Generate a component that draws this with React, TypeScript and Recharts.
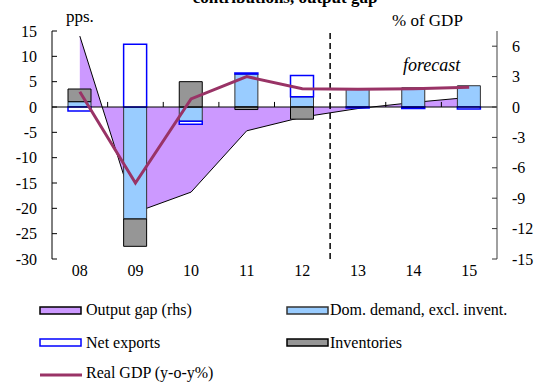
import React from 'react';
import {
  ComposedChart, Area, Bar, Line, XAxis, YAxis, ReferenceLine,
} from 'recharts';

const years = ['08', '09', '10', '11', '12', '13', '14', '15'];
const domDemand = [1.05, -22.1, -2.8, 6.5, 2.0, 3.5, 3.8, 4.2];
const netExports = [-0.8, 12.4, -0.6, 0.2, 4.2, -0.2, -0.3, -0.4];
const inventories = [2.5, -5.4, 5.0, -0.5, -2.4, 0, 0, 0];
const outputGap = [7.0, -10.4, -8.4, -2.35, -1.0, -0.15, 0.45, 0.95];
const realGdp = [1.5, -7.5, 0.8, 3.0, 1.8, 1.75, 1.8, 1.95];

const leftTicks = [-30, -25, -20, -15, -10, -5, 0, 5, 10, 15];
const rightTicks = [-15, -12, -9, -6, -3, 0, 3, 6];
const forecastYear = '13';

const data = years.map((y, i) => ({
  year: y,
  dom: domDemand[i],
  nx: netExports[i],
  inv: inventories[i],
  gap: outputGap[i],
  gdp: realGdp[i],
}));

const FONT = 'Liberation Serif';
const txt = { fontFamily: FONT, fontSize: 16, fill: '#000' };

const legendItems = [
  { label: 'Output gap (rhs)', fill: '#cc99ff', stroke: '#000', x: 40, y: 310, ty: 315, tx: 86 },
  { label: 'Dom. demand, excl. invent.', fill: '#99ccff', stroke: '#333', x: 287, y: 310, ty: 315, tx: 330 },
  { label: 'Net exports', fill: '#fff', stroke: '#0000ff', x: 40, y: 342, ty: 347.5, tx: 86 },
  { label: 'Inventories', fill: '#969696', stroke: '#000', x: 287, y: 342, ty: 347.5, tx: 330 },
  { label: 'Real GDP (y-o-y%)', line: '#993366', x: 40, y: 375, ty: 378, tx: 86 },
];

export default function App() {
  return (
    <div style={{ position: 'absolute', left: 0, top: 0, width: 540, height: 382, background: '#fff', fontFamily: FONT }}>
      <ComposedChart
        width={540}
        height={382}
        data={data}
        stackOffset="sign"
        margin={{ top: 31, right: 3, left: 12, bottom: 93 }}
        style={{ fontFamily: FONT }}
      >
        <XAxis dataKey="year" axisLine={false} tickLine={false} tickSize={0} tickMargin={6}
          tick={txt} interval={0} />
        <YAxis yAxisId="left" domain={[-30, 15]} ticks={leftTicks} width={40}
          axisLine={{ stroke: '#000' }} tickLine={{ stroke: '#000' }} tickSize={-5} tickMargin={20}
          tick={txt} allowDataOverflow />
        <YAxis yAxisId="right" orientation="right" domain={[-15, 7.5]} ticks={rightTicks} width={40}
          axisLine={{ stroke: '#808080', strokeWidth: 1.5 }} tickLine={{ stroke: '#333' }} tickSize={-5} tickMargin={20}
          tick={{ ...txt, textAnchor: 'start' }} allowDataOverflow />

        <Area yAxisId="right" dataKey="gap" type="linear" baseValue={0} fill="#cc99ff" fillOpacity={1}
          stroke="#000" strokeWidth={1} isAnimationActive={false} />

        <ReferenceLine yAxisId="left" y={0} stroke="#000" strokeWidth={1} />
        {years.slice(1).map((y) => (
          <ReferenceLine key={y} yAxisId="left" position="start" stroke="#000" strokeWidth={1}
            segment={[{ x: y, y: 0 }, { x: y, y: 1 }]} />
        ))}

        <Bar yAxisId="left" dataKey="dom" stackId="s" barSize={23} fill="#99ccff" stroke="#333" strokeWidth={1} isAnimationActive={false} />
        <Bar yAxisId="left" dataKey="nx" stackId="s" barSize={23} fill="#fff" stroke="#0000ff" strokeWidth={1.5} isAnimationActive={false} />
        <Bar yAxisId="left" dataKey="inv" stackId="s" barSize={23} fill="#969696" stroke="#000" strokeWidth={1} isAnimationActive={false} />

        <ReferenceLine yAxisId="left" x={forecastYear} position="start" stroke="#000" strokeWidth={1.5} strokeDasharray="6 4" />

        <Line yAxisId="right" dataKey="gdp" type="linear" stroke="#993366" strokeWidth={3} dot={false} isAnimationActive={false} />

        <text x={285} y={3} textAnchor="middle" fontFamily={FONT} fontSize={17} fontWeight="bold">contributions, output gap</text>
        <text x={66} y={22} fontFamily={FONT} fontSize={17}>pps.</text>
        <text x={392} y={26} fontFamily={FONT} fontSize={17}>% of GDP</text>
        <text x={403} y={71} fontFamily={FONT} fontSize={18} fontStyle="italic">forecast</text>

        {legendItems.map((it) => (
          <g key={it.label}>
            {it.line ? (
              <line x1={it.x} x2={it.x + 42} y1={it.y} y2={it.y} stroke={it.line} strokeWidth={3} />
            ) : (
              <rect x={it.x} y={it.y - 3} width={41} height={7} fill={it.fill} stroke={it.stroke} strokeWidth={1.5} />
            )}
            <text x={it.tx} y={it.ty} fontFamily={FONT} fontSize={16}>{it.label}</text>
          </g>
        ))}
      </ComposedChart>
    </div>
  );
}
